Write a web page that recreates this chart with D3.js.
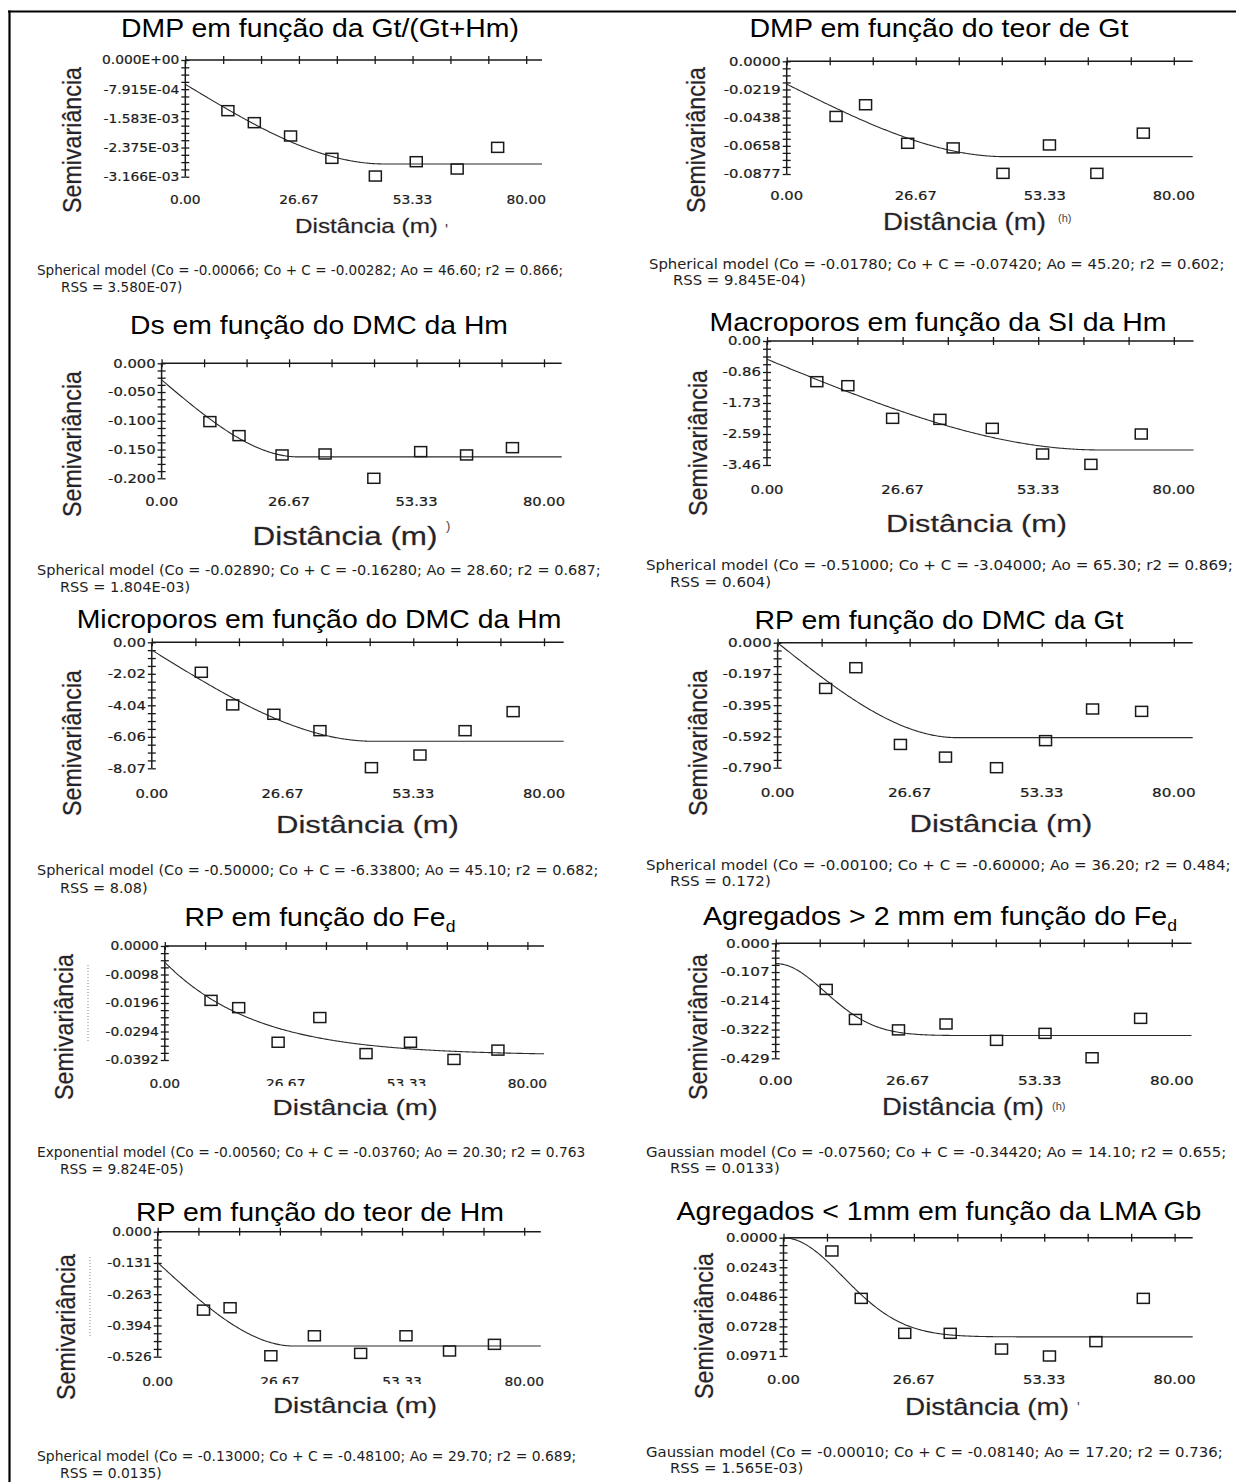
<!DOCTYPE html>
<html>
<head>
<meta charset="utf-8">
<script src="https://cdn.jsdelivr.net/npm/d3@7"></script>
<style>
  html, body { margin: 0; padding: 0; background: #fff; }
  svg { display: block; }
  .title { font-family: "Liberation Sans", Arial, sans-serif; font-size: 26px; fill: #000; }
  .tick  { font-family: "DejaVu Sans", sans-serif; font-size: 12px; fill: #1a1a1a;
           stroke: #1a1a1a; stroke-width: 0.2; }
  .foot  { font-family: "DejaVu Sans", sans-serif; font-size: 13.5px; fill: #1e1e1e; }
  .axlab { font-family: "Liberation Sans", Arial, sans-serif; fill: #20242f;
           stroke: #a0642a; stroke-opacity: 0.35; stroke-width: 0.8; paint-order: stroke; }
  .note  { font-family: "Liberation Sans", Arial, sans-serif; fill: #444; }
</style>
</head>
<body>
<svg id="fig" width="1236" height="1482"></svg>
<script>
// ---- Semivariogram data: experimental semivariance per lag and fitted model ----

const panelTitles = [
  "DMP em função da Gt/(Gt+Hm)",
  "DMP em função do teor de Gt",
  "Ds em função do DMC da Hm",
  "Macroporos em função da SI da Hm",
  "Microporos em função do DMC da Hm",
  "RP em função do DMC da Gt",
  "RP em função do Fe",
  "Agregados > 2 mm em função do Fe",
  "RP em função do teor de Hm",
  "Agregados < 1mm em função da LMA Gb"
];
const titleSubscripts = ["", "", "", "", "", "", "d", "d", "", ""];

// lag distances (m)
const lags = [
  [10.0, 16.2, 24.7, 34.4, 44.6, 54.2, 63.8, 73.3],
  [10.2, 16.3, 25.0, 34.4, 44.7, 54.3, 64.1, 73.7],
  [10.1, 16.2, 25.2, 34.2, 44.4, 54.2, 63.8, 73.4],
  [9.8, 15.9, 24.7, 34.0, 44.3, 54.2, 63.7, 73.6],
  [10.1, 16.5, 24.9, 34.3, 44.8, 54.7, 63.9, 73.7],
  [9.7, 15.8, 24.8, 33.9, 44.2, 54.1, 63.6, 73.5],
  [10.2, 16.3, 25.0, 34.2, 44.4, 54.2, 63.8, 73.5],
  [10.2, 16.1, 24.8, 34.4, 44.6, 54.4, 63.9, 73.7],
  [10.0, 15.8, 24.7, 34.2, 44.3, 54.2, 63.7, 73.5],
  [9.9, 15.9, 24.8, 34.1, 44.6, 54.4, 63.9, 73.6]
];

// experimental semivariance at each lag
const semivariances = [
  [-0.001375, -0.00170, -0.002062, -0.002668, -0.003148, -0.002759, -0.002958, -0.00237],
  [-0.0429, -0.0338, -0.0638, -0.0674, -0.0872, -0.0651, -0.0872, -0.0559],
  [-0.1014, -0.1258, -0.1594, -0.1577, -0.2000, -0.1536, -0.1594, -0.1467],
  [-1.135, -1.247, -2.158, -2.186, -2.437, -3.153, -3.442, -2.595],
  [-1.92, -4.01, -4.61, -5.66, -8.03, -7.22, -5.66, -4.44],
  [-0.289, -0.158, -0.643, -0.723, -0.790, -0.619, -0.419, -0.434],
  [-0.0187, -0.0212, -0.0331, -0.0246, -0.0370, -0.0331, -0.0390, -0.0358],
  [-0.172, -0.284, -0.323, -0.301, -0.362, -0.336, -0.427, -0.280],
  [-0.330, -0.320, -0.522, -0.438, -0.512, -0.438, -0.502, -0.474],
  [-0.0109, -0.0498, -0.0785, -0.0785, -0.0914, -0.0971, -0.0853, -0.0498]
];

// fitted models
const modelTypes = ["Spherical", "Spherical", "Spherical", "Spherical", "Spherical",
                    "Spherical", "Exponential", "Gaussian", "Spherical", "Gaussian"];
const nuggets  = [-0.00066, -0.01780, -0.02890, -0.51000, -0.50000, -0.00100, -0.00560, -0.07560, -0.13000, -0.00010];
const sills    = [-0.00282, -0.07420, -0.16280, -3.04000, -6.33800, -0.60000, -0.03760, -0.34420, -0.48100, -0.08140];
const rangesAo = [46.60, 45.20, 28.60, 65.30, 45.10, 36.20, 20.30, 14.10, 29.70, 17.20];
const r2Labels = ["0.866;", "0.602;", "0.687;", "0.869;", "0.682;", "0.484;", "0.763", "0.655;", "0.689;", "0.736;"];
const rssLabels = ["3.580E-07", "9.845E-04", "1.804E-03", "0.604", "8.08", "0.172", "9.824E-05", "0.0133", "0.0135", "1.565E-03"];

// axes
const xMax = 80;
const xTickLabels = ["0.00", "26.67", "53.33", "80.00"];
const yAxisMin = [-0.003166, -0.0877, -0.200, -3.46, -8.07, -0.790, -0.0392, -0.429, -0.526, -0.0971];
const yTickLabels = [
  ["0.000E+00", "-7.915E-04", "-1.583E-03", "-2.375E-03", "-3.166E-03"],
  ["0.0000", "-0.0219", "-0.0438", "-0.0658", "-0.0877"],
  ["0.000", "-0.050", "-0.100", "-0.150", "-0.200"],
  ["0.00", "-0.86", "-1.73", "-2.59", "-3.46"],
  ["0.00", "-2.02", "-4.04", "-6.06", "-8.07"],
  ["0.000", "-0.197", "-0.395", "-0.592", "-0.790"],
  ["0.0000", "-0.0098", "-0.0196", "-0.0294", "-0.0392"],
  ["0.000", "-0.107", "-0.214", "-0.322", "-0.429"],
  ["0.000", "-0.131", "-0.263", "-0.394", "-0.526"],
  ["0.0000", "0.0243", "0.0486", "0.0728", "0.0971"]
];
const xAxisTitle = "Distância (m)";
const yAxisTitle = "Semivariância";

// ---- page layout of the ten panels (pixels) ----
const layout = [
  {cx: 320, ty: 37, tw: 398, x0: 185.3, x80: 526.2, xEnd: 542, yTop: 60, yBot: 176.7, xlY: 204, tsx: 1.15,
   dx: 366.5, dy: 233, dfs: 21, dw: 143, sx: 71, sy: 140, fx: 37, fy: 275, fw: 527, rx: 61, ry: 292,
   mark: {t: "'", x: 445, y: 236, fs: 16}},
  {cx: 939, ty: 37, tw: 380, x0: 786.7, x80: 1173.8, xEnd: 1192.7, yTop: 61.3, yBot: 174, xlY: 199.5, tsx: 1.23,
   dx: 964.5, dy: 230, dfs: 23.3, dw: 163, sx: 695, sy: 140, fx: 649, fy: 269, fw: 576, rx: 673, ry: 285,
   mark: {t: "(h)", x: 1058, y: 222, fs: 11}},
  {cx: 319, ty: 334, tw: 378, x0: 161.6, x80: 544, xEnd: 561.7, yTop: 363.3, yBot: 478.3, xlY: 505.5, tsx: 1.23,
   dx: 345, dy: 545, dfs: 25.5, dw: 185, sx: 71, sy: 444, fx: 37, fy: 575, fw: 564, rx: 60, ry: 592,
   mark: {t: ")", x: 446, y: 530, fs: 13}},
  {cx: 938, ty: 331, tw: 457, x0: 767, x80: 1173.8, xEnd: 1193.5, yTop: 341, yBot: 465, xlY: 493.7, tsx: 1.24,
   dx: 976.5, dy: 532, dfs: 24, dw: 181, sx: 697, sy: 443, fx: 646, fy: 570, fw: 587, rx: 670, ry: 587},
  {cx: 319, ty: 628, tw: 485, x0: 151.8, x80: 544, xEnd: 563.7, yTop: 642.3, yBot: 768.3, xlY: 797.7, tsx: 1.23,
   dx: 367.5, dy: 833, dfs: 24, dw: 183, sx: 71, sy: 743, fx: 37, fy: 875, fw: 562, rx: 60, ry: 893},
  {cx: 939, ty: 629, tw: 370, x0: 777.6, x80: 1173.8, xEnd: 1192.7, yTop: 642.7, yBot: 767.7, xlY: 797, tsx: 1.27,
   dx: 1001, dy: 832, dfs: 24, dw: 183, sx: 697, sy: 743, fx: 646, fy: 870, fw: 585, rx: 670, ry: 886},
  {cx: 320, ty: 926, tw: 271, x0: 164.8, x80: 527.4, xEnd: 544, yTop: 946, yBot: 1060, xlY: 1087.7, tsx: 1.15,
   dx: 355, dy: 1115, dfs: 22.3, dw: 165, sx: 63, sy: 1027, fx: 37, fy: 1157, fw: 549, rx: 60, ry: 1174,
   clipY: 1086, dots: {x: 88, y1: 965, y2: 1042}},
  {cx: 940, ty: 925, tw: 474, x0: 775.7, x80: 1171.8, xEnd: 1191.5, yTop: 943.3, yBot: 1058.3, xlY: 1085.4, tsx: 1.27,
   dx: 963, dy: 1115, dfs: 23.3, dw: 162, sx: 697, sy: 1027, fx: 646, fy: 1157, fw: 581, rx: 670, ry: 1173,
   mark: {t: "(h)", x: 1052, y: 1110, fs: 11}},
  {cx: 320, ty: 1221, tw: 368, x0: 157.7, x80: 524.2, xEnd: 540.8, yTop: 1231.7, yBot: 1356.7, xlY: 1386, tsx: 1.15,
   dx: 355, dy: 1413, dfs: 22.3, dw: 164, sx: 65, sy: 1327, fx: 37, fy: 1461, fw: 540, rx: 60, ry: 1478,
   clipY: 1384, dots: {x: 90, y1: 1257, y2: 1337}},
  {cx: 939, ty: 1220, tw: 525, x0: 783.5, x80: 1174.6, xEnd: 1192.7, yTop: 1237.7, yBot: 1356, xlY: 1384.4, tsx: 1.23,
   dx: 987, dy: 1415, dfs: 23.3, dw: 164, sx: 703, sy: 1326, fx: 646, fy: 1457, fw: 577, rx: 670, ry: 1473,
   mark: {t: "'", x: 1077, y: 1412, fs: 14}}
];

// ---- helpers ----
function fitX(sel, target, ax) {
  const w = sel.node().getBBox().width;
  const k = target / w;
  sel.attr("transform", `translate(${ax},0) scale(${k},1) translate(${-ax},0)`);
  return k;
}

function modelFn(type, c0, sill, a) {
  const c = sill - c0;
  if (type === "Spherical") {
    return h => h >= a ? sill : c0 + c * (1.5 * h / a - 0.5 * Math.pow(h / a, 3));
  }
  if (type === "Exponential") {
    return h => c0 + c * (1 - Math.exp(-h / a));
  }
  return h => c0 + c * (1 - Math.exp(-(h * h) / (a * a)));
}

const svg = d3.select("#fig");
const defs = svg.append("defs");

// page frame
svg.append("line").attr("x1", 8).attr("x2", 1236).attr("y1", 11.5).attr("y2", 11.5)
  .attr("stroke", "#000").attr("stroke-width", 2.2);
svg.append("line").attr("x1", 9.5).attr("x2", 9.5).attr("y1", 10.5).attr("y2", 1482)
  .attr("stroke", "#000").attr("stroke-width", 2.2);

layout.forEach((L, i) => {
  const g = svg.append("g").attr("class", "panel");
  const x = d3.scaleLinear().domain([0, xMax]).range([L.x0, L.x80]);
  const y = d3.scaleLinear().domain([0, yAxisMin[i]]).range([L.yTop, L.yBot]);

  // title
  const t = g.append("text").attr("class", "title")
    .attr("x", L.cx).attr("y", L.ty).attr("text-anchor", "middle")
    .text(panelTitles[i]);
  if (titleSubscripts[i]) {
    t.append("tspan").attr("font-size", 16).attr("dy", 6).text(titleSubscripts[i]);
  }
  fitX(t, L.tw, L.cx);

  // x axis along semivariance = 0 (top), ticks crossing the line
  const xt = d3.range(0, 10).map(k => k * xMax / 9);
  const axTop = g.append("g").attr("transform", `translate(0,${y(0)})`)
    .call(d3.axisTop(x).tickValues(xt).tickSize(4).tickSizeOuter(0).tickFormat(""));
  const axBot = g.append("g").attr("transform", `translate(0,${y(0)})`)
    .call(d3.axisBottom(x).tickValues(xt).tickSize(4).tickSizeOuter(0).tickFormat(""));
  // y axis with three minor ticks per labelled interval
  const yt = d3.range(0, 17).map(k => yAxisMin[i] * k / 16);
  const axL = g.append("g").attr("transform", `translate(${x(0)},0)`)
    .call(d3.axisLeft(y).tickValues(yt).tickSize(4).tickSizeOuter(0).tickFormat(""));
  const axR = g.append("g").attr("transform", `translate(${x(0)},0)`)
    .call(d3.axisRight(y).tickValues(yt).tickSize(4).tickSizeOuter(0).tickFormat(""));
  [axTop, axBot, axL, axR].forEach(a => {
    a.select(".domain").remove();
    a.selectAll(".tick line").attr("stroke", "#1a1a1a").attr("stroke-width", 1.3);
  });
  g.append("line").attr("x1", x(0)).attr("x2", L.xEnd).attr("y1", y(0)).attr("y2", y(0))
    .attr("stroke", "#1a1a1a").attr("stroke-width", 1.5);
  g.append("line").attr("x1", x(0)).attr("x2", x(0)).attr("y1", y(0)).attr("y2", y(yAxisMin[i]))
    .attr("stroke", "#1a1a1a").attr("stroke-width", 1.5);

  // y tick labels
  yTickLabels[i].forEach((lab, j) => {
    const v = yAxisMin[i] * j / 4;
    g.append("text").attr("class", "tick").attr("text-anchor", "end")
      .attr("transform", `translate(${x(0) - 6},${y(v) + 4.4}) scale(${L.tsx},1)`)
      .text(lab);
  });

  // x tick labels, below the plot
  let clipG = null;
  if (L.clipY) {
    const id = "clip" + i;
    defs.append("clipPath").attr("id", id).append("rect")
      .attr("x", 0).attr("y", 0).attr("width", 1236).attr("height", L.clipY);
    clipG = g.append("g").attr("clip-path", `url(#${id})`);
  }
  xTickLabels.forEach((lab, j) => {
    const host = (clipG && j > 0 && j < xTickLabels.length - 1) ? clipG : g;
    host.append("text").attr("class", "tick").attr("text-anchor", "middle")
      .attr("transform", `translate(${x(+lab)},${L.xlY}) scale(${L.tsx},1)`)
      .text(lab);
  });

  // fitted model curve
  const f = modelFn(modelTypes[i], nuggets[i], sills[i], rangesAo[i]);
  const hMax = x.invert(L.xEnd);
  const hs = d3.range(0, hMax, 0.25).concat([hMax]);
  g.append("path").datum(hs)
    .attr("d", d3.line().x(h => x(h)).y(h => y(f(h))))
    .attr("fill", "none").attr("stroke", "#2a2a2a").attr("stroke-width", 1.1);

  // experimental semivariance points
  g.selectAll("rect.pt").data(d3.zip(lags[i], semivariances[i])).join("rect")
    .attr("class", "pt")
    .attr("x", d => x(d[0]) - 6).attr("y", d => y(d[1]) - 5)
    .attr("width", 12).attr("height", 10)
    .attr("fill", "none").attr("stroke", "#1a1a1a").attr("stroke-width", 1.5);

  // axis titles
  const xl = g.append("text").attr("class", "axlab")
    .attr("x", L.dx).attr("y", L.dy).attr("text-anchor", "middle")
    .attr("font-size", L.dfs).text(xAxisTitle);
  fitX(xl, L.dw, L.dx);

  g.append("text").attr("class", "axlab")
    .attr("text-anchor", "middle").attr("font-size", 22)
    .attr("textLength", 146).attr("lengthAdjust", "spacingAndGlyphs")
    .attr("transform", `translate(${L.sx + 9.5},${L.sy}) scale(1.2,1) rotate(-90)`)
    .text(yAxisTitle);

  if (L.mark) {
    g.append("text").attr("class", "note").attr("x", L.mark.x).attr("y", L.mark.y)
      .attr("font-size", L.mark.fs).text(L.mark.t);
  }
  if (L.dots) {
    g.append("line").attr("x1", L.dots.x).attr("x2", L.dots.x)
      .attr("y1", L.dots.y1).attr("y2", L.dots.y2)
      .attr("stroke", "#888").attr("stroke-width", 1).attr("stroke-dasharray", "1,2");
  }

  // model summary
  const line1 = `${modelTypes[i]} model (Co = ${nuggets[i].toFixed(5)}; Co + C = ${sills[i].toFixed(5)}; ` +
                `Ao = ${rangesAo[i].toFixed(2)}; r2 = ${r2Labels[i]}`;
  const line2 = `RSS = ${rssLabels[i]})`;
  const f1 = g.append("text").attr("class", "foot").attr("x", L.fx).attr("y", L.fy).text(line1);
  const k = fitX(f1, L.fw, L.fx);
  g.append("text").attr("class", "foot").attr("x", L.rx).attr("y", L.ry)
    .attr("transform", `translate(${L.rx},0) scale(${k},1) translate(${-L.rx},0)`)
    .text(line2);
});
</script>
</body>
</html>
